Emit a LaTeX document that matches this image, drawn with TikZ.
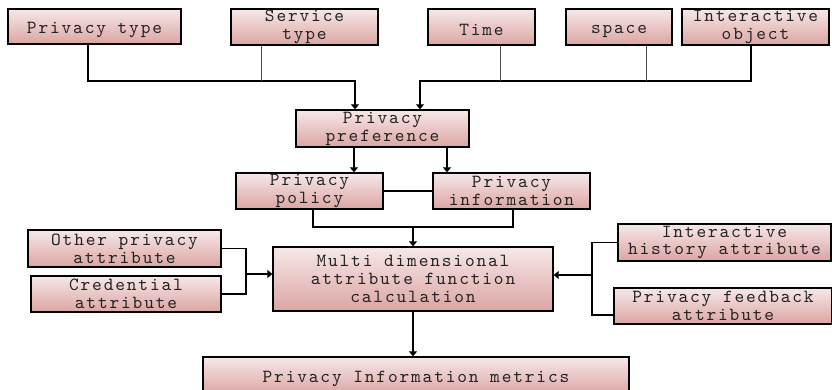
\documentclass[tikz,border=0pt]{standalone}
\usepackage{fontspec}
\usetikzlibrary{arrows.meta}
\newfontfamily\monolm{lmmono10-regular.otf}[LetterSpace=10]
\definecolor{boxtop}{HTML}{F6E8E8}
\definecolor{boxbot}{HTML}{DBA5A2}
\definecolor{ink}{HTML}{222222}
\newcommand\boxfont{\monolm\fontsize{18.5}{17.8}\selectfont}
\newcommand\tallstrut{\rule{0pt}{17.5pt}}
\tikzset{
  block/.style={draw=black, line width=1.3pt, top color=boxtop, bottom color=boxbot,
    inner sep=0pt, align=center, text=ink, font=\boxfont},
  wire/.style={black, line width=1.2pt},
  thinwire/.style={black!70, line width=1pt},
  arr/.style={wire, -{Triangle[length=5pt, width=8pt]}}
}

\begin{document}
\begin{tikzpicture}[x=1pt, y=-1pt]
\useasboundingbox (0,0) rectangle (832,389);
\clip (0,0) rectangle (832,389);
\node[block, minimum width=173, minimum height=35] (ptype) at (94.5,26.5) {\tallstrut Privacy type};
\node[block, minimum width=147, minimum height=36] (stype) at (304.5,27) {Service\\type};
\node[block, minimum width=107, minimum height=36] (time) at (481.5,27) {\tallstrut Time};
\node[block, minimum width=106, minimum height=36] (space) at (619,27) {\tallstrut space};
\node[block, minimum width=147, minimum height=36] (iobj) at (755.5,27) {Interactive\\object};
\node[block, minimum width=173, minimum height=37] (pref) at (382.5,128.5) {Privacy\\preference};
\node[block, minimum width=147, minimum height=36] (policy) at (309.5,191) {Privacy\\policy};
\node[block, minimum width=157, minimum height=36] (pinfo) at (511.5,191) {Privacy\\information};
\node[block, minimum width=280, minimum height=64] (multi) at (413,279) {Multi dimensional\\attribute function\\calculation};
\node[block, minimum width=193, minimum height=37] (other) at (124.5,248.5) {Other privacy\\attribute};
\node[block, minimum width=190, minimum height=36] (cred) at (126,294) {Credential\\attribute};
\node[block, minimum width=213, minimum height=37] (hist) at (724.5,242.5) {Interactive\\history attribute};
\node[block, minimum width=218, minimum height=36] (feed) at (723,306) {Privacy feedback\\attribute};
\node[block, minimum width=426, minimum height=38] (metric) at (416,376) {\tallstrut Privacy Information metrics};
\coordinate (l0) at (88,81);
\coordinate (l1) at (261,81);
\coordinate (l2) at (355,81);
\coordinate (r0) at (420,81);
\coordinate (r1) at (500,81);
\coordinate (r2) at (646,81);
\coordinate (r3) at (751,81);
\coordinate (mj) at (413,227);
\coordinate (lj) at (246,274);
\coordinate (rj) at (592,275);
\coordinate (rb) at (592,315);
\draw[arr] (ptype.south -| l0) -- (l0) -- (l2) -- (pref.north -| l2);
\draw[thinwire] (stype.south -| l1) -- (l1);
\draw[arr] (iobj.south -| r3) -- (r3) -- (r0) -- (pref.north -| r0);
\draw[thinwire] (time.south -| r1) -- (r1);
\draw[thinwire] (space.south -| r2) -- (r2);
\draw[arr] ([xshift=-28.5]pref.south) -- ([xshift=-28.5]pref.south |- policy.north);
\draw[arr] ([xshift=64.5]pref.south) -- ([xshift=64.5]pref.south |- pinfo.north);
\draw[wire] (policy.east) -- (pinfo.west);
\draw[wire] ([xshift=3.5]policy.south) |- (mj) -| ([xshift=1.5]pinfo.south);
\draw[arr] (mj) -- (multi.north);
\draw[wire] (other.east) -| (lj) |- (cred.east);
\draw[arr] (lj) -- (multi.west |- lj);
\draw[wire] (hist.west) -| (rb) -- (feed.west |- rb);
\draw[arr] (rj) -- (multi.east |- rj);
\draw[arr] (multi.south) -- (multi.south |- metric.north);
\end{tikzpicture}
\end{document}
